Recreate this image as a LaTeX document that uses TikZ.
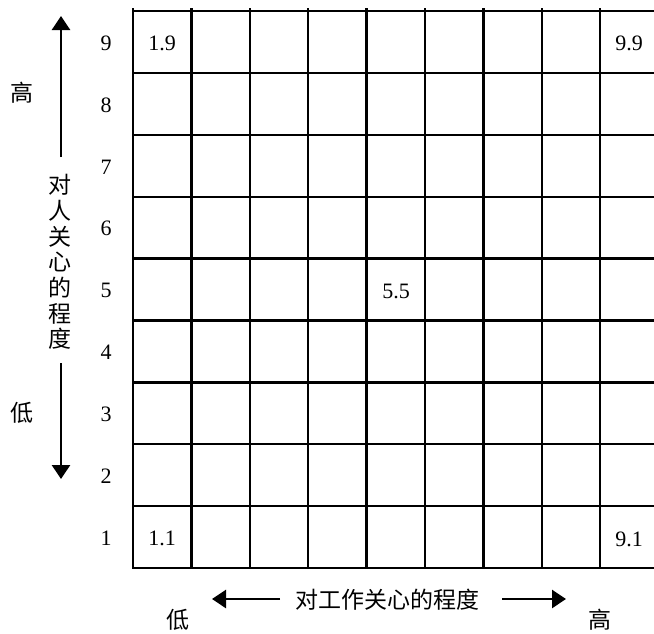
\documentclass[tikz,border=0pt]{standalone}
\usepackage{fontspec}
\setmainfont{Liberation Serif}
\newfontfamily\cjk{Noto Sans CJK SC}
\usetikzlibrary{arrows.meta}
\tikzset{
  gridline/.style={line width=2.3pt, line cap=rect},
  outerline/.style={line width=2.7pt, line cap=rect},
  num/.style={font=\fontsize{22}{24}\selectfont, inner sep=0pt, anchor=center},
  lab/.style={font=\cjk\fontsize{23}{26}\selectfont, inner sep=0pt, anchor=center},
  arr/.style={line width=2.6pt, -{Triangle[length=14pt,width=18pt]}},
}
\begin{document}
\begin{tikzpicture}[x=1pt,y=-1pt]
\useasboundingbox (0,0) rectangle (654,633);
% grid
\foreach \i in {1,...,8} {
  \draw[gridline] ({133+58.4*\i},9) -- ({133+58.4*\i},568);
}
\foreach \j in {0,...,8} {
  \draw[gridline] (133,{11+61.9*\j}) -- (656,{11+61.9*\j});
}
\draw[outerline] (133,9) -- (133,568) -- (656,568);
% row numbers
\foreach \r in {1,...,9} {
  \node[num] (r\r) at (106,{11+61.9*(9-\r)+32}) {\r};
}
% cell values
\node[num] (c19) at (162,43) {1.9};
\node[num] (c99) at (629,43) {9.9};
\node[num] (c55) at (396,291) {5.5};
\node[num] (c11) at (162,538) {1.1};
\node[num] (c91) at (629,539) {9.1};
% vertical axis
\node[lab] (hiL) at (22,93) {高};
\node[lab] (loL) at (22,413) {低};
\node[lab, align=center, font=\cjk\fontsize{23}{25.7}\selectfont] (vtext) at (60,262) {对\\人\\关\\心\\的\\程\\度};
\coordinate (vt1) at (61,157);
\coordinate (vt2) at (61,16);
\coordinate (vb1) at (61,363);
\coordinate (vb2) at (61,479);
\draw[arr] (vt1) -- (vt2);
\draw[arr] (vb1) -- (vb2);
% horizontal axis
\node[lab] (htext) at (387.5,600) {对工作关心的程度};
\coordinate (hl1) at (280,599);
\coordinate (hl2) at (212,599);
\coordinate (hr1) at (502,599);
\coordinate (hr2) at (566,599);
\draw[arr] (hl1) -- (hl2);
\draw[arr] (hr1) -- (hr2);
\node[lab] (loB) at (178,620) {低};
\node[lab] (hiB) at (600,620) {高};
\end{tikzpicture}
\end{document}
